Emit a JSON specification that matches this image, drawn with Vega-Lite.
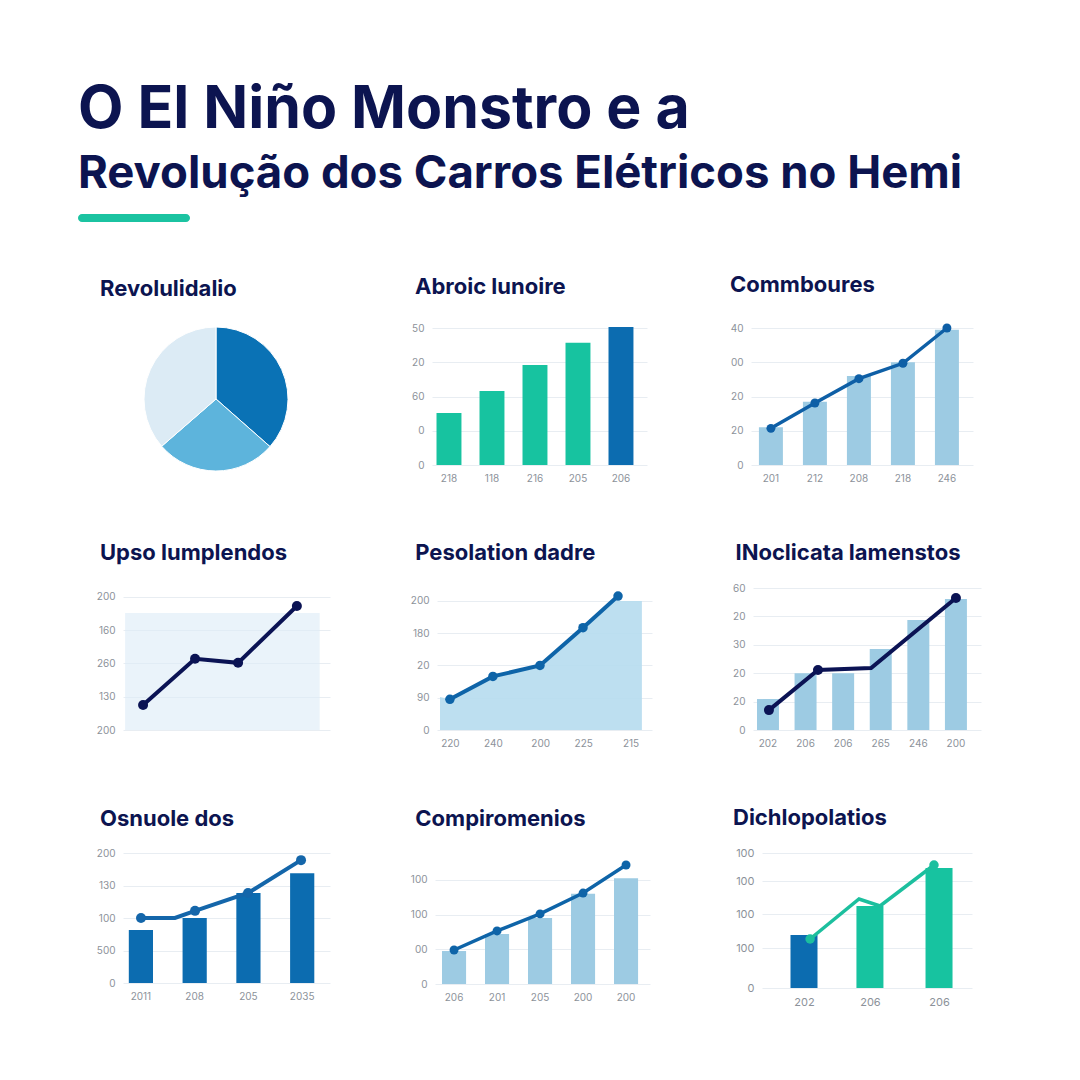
{
  "$schema": "https://vega.github.io/schema/vega-lite/v6.json",
  "background": "#ffffff",
  "padding": {"left": 78, "top": 80, "right": 10, "bottom": 10},
  "title": {
    "text": "O El Niño Monstro e a",
    "subtitle": "Revolução dos Carros Elétricos no Hemi",
    "fontSize": 59,
    "subtitleFontSize": 45.5,
    "font": "Inter",
    "subtitleFont": "Inter",
    "fontWeight": "bold",
    "subtitleFontWeight": "bold",
    "color": "#0c1450",
    "subtitleColor": "#0c1450",
    "anchor": "start",
    "frame": "bounds",
    "offset": 17,
    "subtitlePadding": 12
  },
  "columns": 1,
  "align": "none",
  "spacing": 52,
  "concat": [
    {
      "width": 112,
      "height": 8,
      "data": {"values": [{"a": 0, "b": 1}]},
      "mark": {"type": "rect", "color": "#1bc3a1", "cornerRadius": 4, "xOffset": -45, "x2Offset": -45},
      "encoding": {
        "x": {"field": "a", "type": "quantitative", "scale": {"domain": [0, 1]}, "axis": null},
        "x2": {"field": "b"},
        "y": {"datum": 0, "type": "quantitative", "scale": {"domain": [0, 1]}, "axis": null},
        "y2": {"datum": 1}
      }
    },
    {
      "spacing": 80,
      "hconcat": [
        {
          "title": {"text": "Revolulidalio", "dx": -23},
          "width": 207,
          "height": 142,
          "data": {"values": [
            {"fatia": "A", "v": 36.5, "k": 1},
            {"fatia": "B", "v": 27.1, "k": 2},
            {"fatia": "C", "v": 36.4, "k": 3}
          ]},
          "mark": {"type": "arc", "outerRadius": 72, "xOffset": -10.5, "stroke": "#ffffff", "strokeWidth": 1},
          "encoding": {
            "theta": {"field": "v", "type": "quantitative", "stack": true},
            "color": {"field": "fatia", "type": "nominal", "scale": {"domain": ["A", "B", "C", "verde", "azul"], "range": ["#0a72b5", "#5db4dc", "#dcebf5", "#17c3a0", "#0c6cb0"]}, "legend": null},
            "order": {"field": "k", "type": "quantitative"}
          }
        },
        {
          "title": {"text": "Abroic lunoire", "dx": 5},
          "width": 215,
          "height": 137,
          "data": {"values": [
            {"ano": "218", "v": 15.2, "g": "verde"},
            {"ano": "118", "v": 21.6, "g": "verde"},
            {"ano": "216", "v": 29.2, "g": "verde"},
            {"ano": "205", "v": 35.7, "g": "verde"},
            {"ano": "206", "v": 40.3, "g": "azul"}
          ]},
          "mark": {"type": "bar"},
          "encoding": {
            "x": {"field": "ano", "type": "nominal", "sort": null, "scale": {"paddingInner": 0.42, "paddingOuter": 0.21, "align": 0.25}, "axis": {"labelAngle": 0, "minExtent": 25, "maxExtent": 25}, "title": null},
            "y": {"field": "v", "type": "quantitative", "scale": {"domain": [0, 40]}, "axis": {"values": [0, 10, 20, 30, 40], "tickCount": 20, "labelExpr": "['0','0','60','20','50'][datum.value/10]", "minExtent": 22, "maxExtent": 22}, "title": null},
            "color": {"field": "g", "type": "nominal", "scale": {"domain": ["A", "B", "C", "verde", "azul"], "range": ["#0a72b5", "#5db4dc", "#dcebf5", "#17c3a0", "#0c6cb0"]}, "legend": null}
          }
        },
        {
          "title": {"text": "Commboures", "dx": 3},
          "width": 222,
          "height": 137,
          "data": {"values": [
            {"ano": "201", "barra": 11, "linha": 10.7},
            {"ano": "212", "barra": 18.5, "linha": 18.1},
            {"ano": "208", "barra": 26, "linha": 25.2},
            {"ano": "218", "barra": 30, "linha": 29.7},
            {"ano": "246", "barra": 39.5, "linha": 40}
          ]},
          "encoding": {
            "x": {"field": "ano", "type": "nominal", "sort": null, "scale": {"paddingInner": 0.455, "paddingOuter": 0.25, "align": 0.36}, "axis": {"labelAngle": 0, "minExtent": 25, "maxExtent": 25}, "title": null}
          },
          "layer": [
            {
              "mark": {"type": "bar", "color": "#9dcbe3"},
              "encoding": {"y": {"field": "barra", "type": "quantitative", "scale": {"domain": [0, 40]}, "axis": {"values": [0, 10, 20, 30, 40], "tickCount": 20, "labelExpr": "['0','20','20','00','40'][datum.value/10]", "minExtent": 24, "maxExtent": 24}, "title": null}}
            },
            {
              "mark": {"type": "line", "color": "#0e5fa6", "strokeWidth": 3.5, "point": {"filled": true, "size": 80, "color": "#0e5fa6"}},
              "encoding": {"y": {"field": "linha", "type": "quantitative", "title": null}}
            }
          ]
        }
      ]
    },
    {
      "spacing": 80,
      "hconcat": [
        {
          "title": {"text": "Upso lumplendos", "dx": 22, "offset": 23},
          "width": 207,
          "height": 142,
          "layer": [
            {
              "data": {"values": [{"x": 1, "y": 35.2}, {"x": 95, "y": 35.2}]},
              "mark": {"type": "area", "color": "#dcebf6", "opacity": 0.6},
              "encoding": {
                "x": {"field": "x", "type": "quantitative", "scale": {"domain": [0, 100]}, "axis": null},
                "y": {"field": "y", "type": "quantitative", "scale": {"domain": [0, 42.7], "nice": false}, "axis": {"values": [0, 10, 20, 30, 40], "tickCount": 20, "labelExpr": "['200','130','260','160','200'][datum.value/10]", "minExtent": 45, "maxExtent": 45}, "title": null}
              }
            },
            {
              "data": {"values": [{"x": 9.7, "y": 7.5}, {"x": 34.8, "y": 21.4}, {"x": 55.6, "y": 20.2}, {"x": 84, "y": 37.3}]},
              "mark": {"type": "line", "color": "#0b1354", "strokeWidth": 4, "point": {"filled": true, "size": 100, "color": "#0b1354"}},
              "encoding": {
                "x": {"field": "x", "type": "quantitative"},
                "y": {"field": "y", "type": "quantitative"}
              }
            }
          ]
        },
        {
          "title": {"text": "Pesolation dadre", "dx": 5, "offset": 23},
          "width": 215,
          "height": 142,
          "layer": [
            {
              "data": {"values": [{"x": 1.4, "y": 10.2}, {"x": 6, "y": 9.5}, {"x": 26, "y": 16.6}, {"x": 47.9, "y": 20}, {"x": 67.9, "y": 31.7}, {"x": 81.7, "y": 40}, {"x": 95.3, "y": 40}]},
              "mark": {"type": "area", "color": "#b6dcee", "opacity": 0.9},
              "encoding": {
                "x": {"field": "x", "type": "quantitative", "scale": {"domain": [0, 100]}, "axis": {"values": [6, 26, 48, 68, 90], "tickCount": 20, "labelExpr": "datum.value < 10 ? '220' : datum.value < 30 ? '240' : datum.value < 50 ? '200' : datum.value < 70 ? '225' : '215'", "minExtent": 25, "maxExtent": 25}, "title": null},
                "y": {"field": "y", "type": "quantitative", "scale": {"domain": [0, 44], "nice": false}, "axis": {"values": [0, 10, 20, 30, 40], "tickCount": 20, "labelExpr": "['0','90','20','180','200'][datum.value/10]", "minExtent": 22, "maxExtent": 22}, "title": null}
              }
            },
            {
              "data": {"values": [{"x": 6, "y": 9.5}, {"x": 26, "y": 16.6}, {"x": 47.9, "y": 20}, {"x": 67.9, "y": 31.7}, {"x": 84.2, "y": 41.5}]},
              "mark": {"type": "line", "color": "#0e64a8", "strokeWidth": 4, "point": {"filled": true, "size": 90, "color": "#0e64a8"}},
              "encoding": {
                "x": {"field": "x", "type": "quantitative"},
                "y": {"field": "y", "type": "quantitative"}
              }
            }
          ]
        },
        {
          "title": {"text": "INoclicata lamenstos", "dx": 3, "offset": 18},
          "width": 228,
          "height": 142,
          "layer": [
            {
              "data": {"values": [
                {"ano": "202", "v": 10.9},
                {"ano": "206", "v": 20},
                {"ano": "206 ", "v": 20},
                {"ano": "265", "v": 28.5},
                {"ano": "246", "v": 38.7},
                {"ano": "200", "v": 46.1}
              ]},
              "mark": {"type": "bar", "color": "#9dcbe3"},
              "encoding": {
                "x": {"field": "ano", "type": "nominal", "sort": null, "scale": {"paddingInner": 0.415, "paddingOuter": 0.24, "align": 0.22}, "axis": {"labelAngle": 0, "minExtent": 25, "maxExtent": 25}, "title": null},
                "y": {"field": "v", "type": "quantitative", "scale": {"domain": [0, 50], "nice": false}, "axis": {"values": [0, 10, 20, 30, 40, 50], "tickCount": 20, "labelExpr": "['0','20','20','30','20','60'][datum.value/10]", "minExtent": 19, "maxExtent": 19}, "title": null}
              }
            },
            {
              "data": {"values": [{"x": 7, "v": 7}, {"x": 28.5, "v": 21.1}, {"x": 51.8, "v": 21.8}, {"x": 89, "v": 46.5}]},
              "encoding": {
                "x": {"field": "x", "type": "quantitative", "scale": {"domain": [0, 100]}, "axis": null},
                "y": {"field": "v", "type": "quantitative"}
              },
              "layer": [
                {"mark": {"type": "line", "color": "#0b1354", "strokeWidth": 4}},
                {"transform": [{"filter": "datum.x < 40 || datum.x > 80"}], "mark": {"type": "point", "filled": true, "size": 100, "color": "#0b1354", "opacity": 1}}
              ]
            }
          ],
          "resolve": {"scale": {"x": "independent"}}
        }
      ]
    },
    {
      "spacing": 80,
      "hconcat": [
        {
          "title": {"text": "Osnuole dos", "dx": 22, "offset": 17},
          "width": 207,
          "height": 130,
          "layer": [
            {
              "data": {"values": [
                {"ano": "2011", "v": 16.3},
                {"ano": "208", "v": 20},
                {"ano": "205", "v": 27.7},
                {"ano": "2035", "v": 33.8}
              ]},
              "mark": {"type": "bar", "color": "#0c6cb0"},
              "encoding": {
                "x": {"field": "ano", "type": "nominal", "sort": null, "scale": {"paddingInner": 0.55, "paddingOuter": 0.2, "align": 0.27}, "axis": {"labelAngle": 0}, "title": null},
                "y": {"field": "v", "type": "quantitative", "scale": {"domain": [0, 40], "nice": false}, "axis": {"values": [0, 10, 20, 30, 40], "tickCount": 20, "labelExpr": "['0','500','100','130','200'][datum.value/10]", "minExtent": 45, "maxExtent": 45}, "title": null}
              }
            },
            {
              "data": {"values": [{"x": 8.7, "v": 20}, {"x": 25.1, "v": 20}, {"x": 34.8, "v": 22.2}, {"x": 60.4, "v": 27.7}, {"x": 86, "v": 37.8}]},
              "encoding": {
                "x": {"field": "x", "type": "quantitative", "scale": {"domain": [0, 100]}, "axis": null},
                "y": {"field": "v", "type": "quantitative"}
              },
              "layer": [
                {"mark": {"type": "line", "color": "#1466aa", "strokeWidth": 4}},
                {"transform": [{"filter": "datum.x < 20 || datum.x > 30"}], "mark": {"type": "point", "filled": true, "size": 100, "color": "#1466aa", "opacity": 1}}
              ]
            }
          ],
          "resolve": {"scale": {"x": "independent"}}
        },
        {
          "title": {"text": "Compiromenios", "dx": 5, "offset": 22},
          "width": 215,
          "height": 131,
          "data": {"values": [
            {"ano": "206", "barra": 9.5, "linha": 9.8},
            {"ano": "201", "barra": 14.4, "linha": 15.3},
            {"ano": "205", "barra": 19, "linha": 20.2},
            {"ano": "200", "barra": 26, "linha": 26.2},
            {"ano": "200 ", "barra": 30.5, "linha": 34.3}
          ]},
          "encoding": {
            "x": {"field": "ano", "type": "nominal", "sort": null, "scale": {"paddingInner": 0.44, "paddingOuter": 0.22, "align": 0.37}, "axis": {"labelAngle": 0}, "title": null}
          },
          "layer": [
            {
              "mark": {"type": "bar", "color": "#9dcbe3"},
              "encoding": {"y": {"field": "barra", "type": "quantitative", "scale": {"domain": [0, 37.75], "nice": false}, "axis": {"values": [0, 10, 20, 30], "tickCount": 20, "labelExpr": "['0','00','100','100'][datum.value/10]", "minExtent": 22, "maxExtent": 22}, "title": null}}
            },
            {
              "mark": {"type": "line", "color": "#0e64a8", "strokeWidth": 3.5, "point": {"filled": true, "size": 80, "color": "#0e64a8"}},
              "encoding": {"y": {"field": "linha", "type": "quantitative", "title": null}}
            }
          ]
        },
        {
          "title": {"text": "Dichlopolatios", "dx": 3, "offset": 17},
          "width": 210,
          "height": 135,
          "layer": [
            {
              "data": {"values": [
                {"x": 20, "v": 53, "g": "azul"},
                {"x": 51.4, "v": 82, "g": "verde"},
                {"x": 84.3, "v": 120, "g": "verde"}
              ]},
              "mark": {"type": "bar", "size": 27, "orient": "vertical"},
              "encoding": {
                "x": {"field": "x", "type": "quantitative", "scale": {"domain": [0, 100], "padding": 0}, "axis": {"values": [20, 51.4, 84.3], "tickCount": 20, "labelExpr": "datum.value < 30 ? '202' : '206'", "labelFontSize": 11}, "title": null},
                "y": {"field": "v", "type": "quantitative", "scale": {"domain": [0, 135], "nice": false}, "axis": {"values": [0, 40, 74, 107, 135], "tickCount": 20, "labelExpr": "datum.value == 0 ? '0' : '100'", "labelFontSize": 11, "minExtent": 32, "maxExtent": 32}, "title": null},
                "color": {"field": "g", "type": "nominal", "scale": {"domain": ["A", "B", "C", "verde", "azul"], "range": ["#0a72b5", "#5db4dc", "#dcebf5", "#17c3a0", "#0c6cb0"]}, "legend": null}
              }
            },
            {
              "data": {"values": [{"x": 22.9, "v": 49}, {"x": 46.2, "v": 89}, {"x": 56.2, "v": 82}, {"x": 81.9, "v": 123}]},
              "encoding": {
                "x": {"field": "x", "type": "quantitative"},
                "y": {"field": "v", "type": "quantitative"}
              },
              "layer": [
                {"mark": {"type": "line", "color": "#1cbf9e", "strokeWidth": 3.5}},
                {"transform": [{"filter": "datum.x < 30 || datum.x > 80"}], "mark": {"type": "point", "filled": true, "size": 90, "color": "#1cbf9e", "opacity": 1}}
              ]
            }
          ]
        }
      ]
    }
  ],
  "config": {
    "font": "Inter",
    "view": {"stroke": null},
    "axis": {
      "labelColor": "#8c929a",
      "labelFontSize": 10,
      "labelFont": "Inter",
      "ticks": false,
      "domain": false,
      "gridColor": "#e8edf2",
      "gridWidth": 1,
      "labelPadding": 8
    },
    "axisX": {"grid": false},
    "axisY": {"grid": true},
    "title": {"fontSize": 22, "fontWeight": "bold", "color": "#0c1450", "anchor": "start", "frame": "bounds", "offset": 24}
  }
}
